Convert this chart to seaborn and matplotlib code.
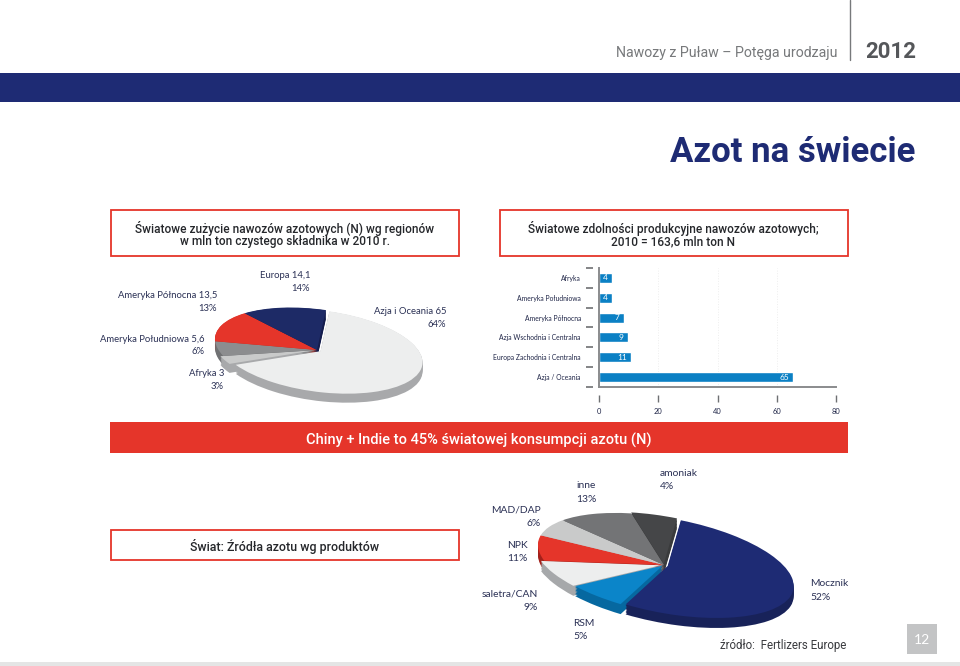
import numpy as np
import pandas as pd
import matplotlib.pyplot as plt
from matplotlib.patches import Rectangle
from matplotlib.transforms import Affine2D
import seaborn as sns

# Dane: zuzycie wg regionow
region_names = ["Azja i Oceania 65", "Afryka 3", "Ameryka Południowa 5,6", "Ameryka Północna 13,5", "Europa 14,1"]
region_values = [65, 3, 5.6, 13.5, 14.1]
region_shares = ["64%", "3%", "6%", "13%", "14%"]

# Dane: zdolnosci produkcyjne (dlugosci slupkow, etykiety jak na slajdzie)
capacity_names = ["Afryka", "Ameryka Południowa", "Ameryka Północna", "Azja Wschodnia i Centralna",
                  "Europa Zachodnia i Centralna", "Azja / Oceania"]
capacity_bars = [4.5, 4.5, 8.3, 9.7, 10.8, 65.6]
capacity_labels = ["4", "4", "7", "9", "11", "65"]

# Dane: zrodla azotu (katy wycinkow odczytane z obrazka, nie zgadzaja sie dokladnie z etykietami)
product_names = ["Mocznik", "RSM", "saletra/CAN", "NPK", "MAD/DAP", "inne", "amoniak"]
product_shares = ["52%", "5%", "9%", "11%", "6%", "13%", "4%"]
product_slices = [193.5, 24.5, 28, 30, 24.5, 38.5, 21]

NAVY = "#1e2b74"
RED = "#e5352a"
TEXT = "#2b3155"
HEAD = "Roboto"
BODY = "Lato"

sns.set_theme(style="white")
plt.rcParams["font.family"] = [BODY, "DejaVu Sans"]

W, H = 960, 666
fig = plt.figure(figsize=(W / 100, H / 100), dpi=100, facecolor="white")

# Warstwa w pikselach na tlo, ramki i napisy
page = fig.add_axes([0, 0, 1, 1], zorder=0)
page.set_xlim(0, W)
page.set_ylim(H, 0)
page.axis("off")


def box(x0, y0, x1, y1, **kw):
    page.add_patch(Rectangle((x0, y0), x1 - x0, y1 - y0, **kw))


def txt(x, y, s, size=8, color=TEXT, ha="center", weight="normal", family=BODY):
    page.text(x, y, s, fontsize=size, color=color, ha=ha, va="center_baseline", weight=weight, family=family)


def px_axes(x0, y0, x1, y1, **kw):
    return fig.add_axes([x0 / W, 1 - y1 / H, (x1 - x0) / W, (y1 - y0) / H], **kw)


def pie_3d(cx, cy, rx, ry, tilt, sizes, tops, sides, explode, start, depth):
    pad = 1.6
    ax = px_axes(cx - rx * pad, cy - ry * pad, cx + rx * pad, cy + ry * pad + depth, zorder=2)
    low = depth / ry
    opts = dict(explode=explode, startangle=start, counterclock=False, wedgeprops={"linewidth": 0})
    wedges = []
    for d in np.arange(low, 0, -0.03):
        wedges += ax.pie(sizes, colors=sides, center=(0, -d), **opts)[0]
    wedges += ax.pie(sizes, colors=tops, center=(0, 0), **opts)[0]
    ax.set_aspect("auto")
    ax.set_xlim(-pad, pad)
    ax.set_ylim(-pad - low, pad)
    # elipsa na slajdzie jest przechylona, prawa strona nizej
    shear = Affine2D.from_values(1, -tilt, 0, 1, 0, 0)
    for w in wedges:
        w.set_transform(shear + ax.transData)


# Naglowek
box(0, 73, W, 102, color=NAVY, lw=0)
box(0, 662, W, 666, color="#e4e5e5", lw=0)
page.plot([850, 850], [0, 60], color="#77797b", lw=1)
txt(838, 52, "Nawozy z Puław – Potęga urodzaju", size=10.2, color="#77797b", ha="right", family=HEAD)
txt(916, 50, "2012", size=16, color="#55575a", ha="right", weight="bold", family=HEAD)
txt(915, 149, "Azot na świecie", size=25, color=NAVY, ha="right", weight="bold", family=HEAD)

# Ramki z tytulami
box(110.5, 209.5, 459, 256, fc="white", ec=RED, lw=1.3)
box(500, 209.5, 847.5, 256, fc="white", ec=RED, lw=1.3)
box(110.5, 529.5, 459, 560, fc="white", ec=RED, lw=1.3)
box(110, 422, 848, 453, color=RED, lw=0)
txt(285, 227, "Światowe zużycie nawozów azotowych (N) wg regionów", size=8.6, color="#25272b", family=HEAD, weight="medium")
txt(285, 240, "w mln ton czystego składnika w 2010 r.", size=8.6, color="#25272b", family=HEAD, weight="medium")
txt(673, 227, "Światowe zdolności produkcyjne nawozów azotowych;", size=8.6, color="#25272b", family=HEAD, weight="medium")
txt(673, 240, "2010 = 163,6 mln ton N", size=8.6, color="#25272b", family=HEAD, weight="medium")
txt(285, 545, "Świat: Źródła azotu wg produktów", size=8.9, color="#25272b", family=HEAD, weight="medium")
txt(479, 439, "Chiny + Indie to 45% światowej konsumpcji azotu (N)", size=10.5, color="white", family=HEAD, weight="medium")

# Kolowy: regiony
pie_3d(317, 350, 102, 41, 0.27, region_values,
       ["#edeeee", "#c9caca", "#8c8d8f", RED, "#1d2a66"],
       ["#a8a9ab", "#a8a9ab", "#707173", "#b5281f", "#141d4d"],
       [0.04, 0.03, 0, 0, 0], 85, 9)
label_pos = [(446, 311), (224, 373), (205, 338), (217, 295), (310, 275)]
for (x, y), name, share in zip(label_pos, region_names, region_shares):
    txt(x, y, name, size=6.8, ha="right")
    txt(x, y + 12.5, share, size=6.8, ha="right")

# Slupkowy: zdolnosci produkcyjne
df = pd.DataFrame({"region": capacity_names, "value": capacity_bars})
ax = px_axes(599, 268, 836, 387, zorder=1)
ax.patch.set_alpha(0)
sns.barplot(data=df, x="value", y="region", color="#0b80c4", saturation=1, width=0.5, orient="h", ax=ax)
for t in ax.bar_label(ax.containers[0], labels=capacity_labels, padding=-3, color="white", fontsize=6):
    t.set_ha("right")
ax.set_xlim(0, 80)
ax.set_ylim(5.5, -0.5)
ax.set_xlabel("")
ax.set_ylabel("")
ax.set_xticks([20, 40, 60, 80])
ax.tick_params(axis="x", length=0, labelbottom=False)
ax.tick_params(axis="y", length=0, pad=13, labelsize=4.9, labelcolor="#1f2547")
ax.grid(axis="x", color="#eeeeee", ls=":", lw=0.7)
ax.set_axisbelow(True)
for side in ["top", "right"]:
    ax.spines[side].set_visible(False)
for side in ["left", "bottom"]:
    ax.spines[side].set_color("#8a8b8d")
    ax.spines[side].set_linewidth(1.4)

# Odsuniete znaczniki osi
sec_x = ax.secondary_xaxis(-0.07)
sec_x.set_xticks([0, 20, 40, 60, 80])
sec_x.tick_params(length=5, width=1, color="#6e7072", labelsize=5.4, labelcolor="#1f2547", pad=4)
sec_x.spines["bottom"].set_visible(False)
sec_y = ax.secondary_yaxis(-0.025)
sec_y.set_yticks(np.arange(-0.5, 6))
sec_y.set_yticklabels([])
sec_y.tick_params(length=5, width=1.2, color="#6e7072")
sec_y.spines["left"].set_visible(False)

# Kolowy: produkty
pie_3d(664, 565, 126, 48, 0.42, product_slices,
       [NAVY, "#0b85c9", "#edeeee", RED, "#c9caca", "#737476", "#454648"],
       ["#182259", "#0668a0", "#a6a8aa", "#a3201a", "#b0b1b3", "#5f6062", "#3a3b3c"],
       [0.03, 0.02, 0.03, 0, 0, 0, 0.02], 84, 10)
product_pos = [(810, 583, "left"), (573, 622, "left"), (538, 593, "right"), (507, 544, "left"),
               (541, 509, "right"), (576, 485, "left"), (660, 472, "left")]
for (x, y, ha), name, share in zip(product_pos, product_names, product_shares):
    txt(x, y, name, size=7.4, ha=ha)
    txt(x, y + 13.5, share, size=7.4, ha=ha)

# Stopka
txt(720, 644, "źródło:  Fertlizers Europe", size=8.3, color="#3a3b3f", ha="left", family=HEAD)
box(907, 624, 937, 654, color="#c3c4c5", lw=0)
txt(922, 639, "12", size=10, color="white")

fig.savefig("out.png", dpi=100)
